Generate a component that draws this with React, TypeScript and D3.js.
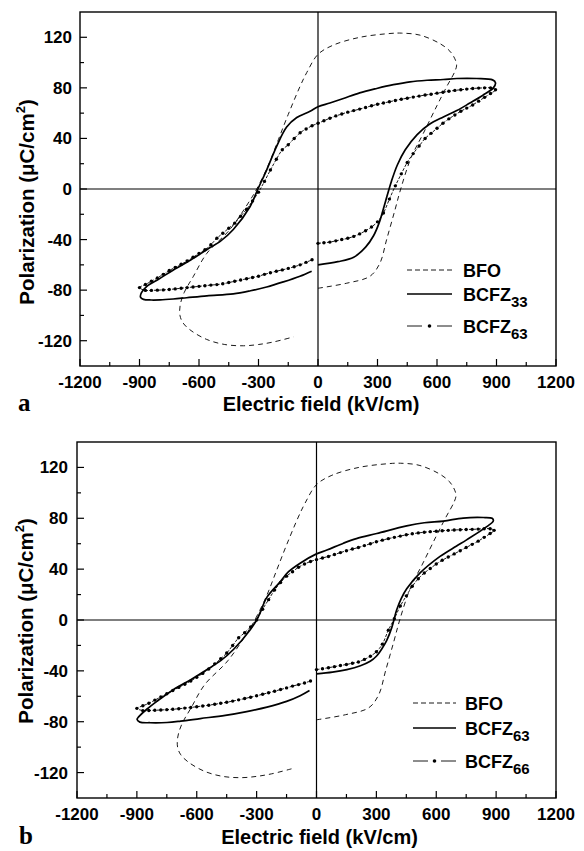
import React from 'react';
import * as d3 from 'd3';

type Pt = [number, number];

const X_TICKS = [-1200, -900, -600, -300, 0, 300, 600, 900, 1200];
const X_MINOR = [-1050, -750, -450, -150, 150, 450, 750, 1050];
const Y_TICKS = [-120, -80, -40, 0, 40, 80, 120];
const Y_MINOR = [-100, -60, -20, 20, 60, 100];

// BFO loop (same in both panels)
const BFO: Pt[] = [
  [0, -78.5], [145, -74.5], [262, -69], [312, -58.7], [346, -40], [388, -16.6], [417, 0],
  [470, 25], [531, 44], [600, 66], [649, 81], [690, 93], [699, 98], [690, 103], [665, 109],
  [615, 115], [514, 121.7], [420, 123.3], [363, 123], [212, 120], [77, 113.8], [0, 106.5],
  [-57, 92], [-91, 81], [-150, 59], [-200, 39], [-250, 19], [-309, 0], [-343, -9],
  [-444, -32], [-561, -51], [-628, -69], [-675, -82], [-695, -92], [-696, -100], [-680, -106],
  [-640, -112], [-561, -119], [-470, -123], [-376, -124], [-300, -123], [-225, -121], [-124, -117],
];

// Panel a: BCFZ33 (solid)
const A_BCFZ33: Pt[] = [
  [0, -60], [100, -57.5], [180, -54], [240, -46], [280, -37], [310, -26], [340, -10], [370, 6],
  [400, 19], [440, 31], [500, 43], [560, 51], [632, 57], [700, 62], [766, 68], [830, 74],
  [884, 80], [895, 84], [880, 86.3], [800, 87.4], [700, 87.4], [632, 86.6], [550, 86], [464, 84.8],
  [380, 82.5], [296, 79.5], [210, 76], [128, 71.6], [60, 68], [0, 65], [-40, 61.5], [-107, 56.5],
  [-158, 49], [-208, 34], [-259, 15], [-303, 0], [-343, -14], [-427, -32], [-490, -41],
  [-561, -48], [-640, -56], [-729, -64], [-800, -71], [-863, -77], [-890, -82], [-895, -85.5],
  [-880, -87.3], [-840, -87.8], [-796, -87.7], [-730, -87], [-662, -86], [-560, -84.5],
  [-427, -83], [-340, -80.5], [-259, -77.5], [-175, -73.5], [-91, -69], [-32, -65],
];

// Panel a: BCFZ63 (dash-dot with markers)
const A_BCFZ63: Pt[] = [
  [0, -43], [30, -42.5], [60, -42], [90, -41], [120, -40], [150, -39], [180, -37.5], [210, -35.5],
  [240, -33], [270, -30], [300, -26], [330, -19], [360, -8], [390, 2.5], [420, 12], [450, 21],
  [480, 28], [510, 34], [540, 40], [570, 44], [600, 48], [630, 52], [660, 55.5], [690, 58.5],
  [720, 61.5], [750, 64], [780, 66.5], [810, 69.5], [840, 72.5], [870, 75.5], [895, 78.5],
  [870, 80], [840, 80], [810, 79.8], [780, 79.5], [750, 79], [720, 78.5], [690, 78], [660, 77.3],
  [630, 76.5], [600, 75.8], [570, 75], [540, 74.3], [510, 73.5], [480, 72.7], [450, 71.8],
  [420, 71], [390, 70], [360, 69], [330, 68], [300, 67], [270, 65.8], [240, 64.5], [210, 63.2],
  [180, 62], [150, 60.8], [120, 59.3], [90, 57.8], [60, 56], [30, 54], [0, 52], [-30, 50],
  [-60, 47.5], [-90, 44.5], [-120, 40], [-150, 35], [-180, 31], [-210, 23.5], [-240, 15],
  [-270, 6], [-300, -2.5], [-330, -9.5], [-360, -16], [-390, -21.5], [-420, -27], [-450, -31],
  [-480, -35], [-510, -39], [-540, -44], [-570, -48], [-600, -51], [-630, -54], [-660, -57],
  [-690, -59.5], [-720, -62], [-750, -64.5], [-780, -67.5], [-810, -70.3], [-840, -73],
  [-870, -75.5], [-900, -78], [-870, -80.2], [-840, -80.2], [-810, -80], [-780, -79.8],
  [-750, -79.5], [-720, -79], [-690, -78.5], [-660, -78], [-630, -77.5], [-600, -77],
  [-570, -76.5], [-540, -76], [-510, -75.6], [-480, -75], [-450, -74], [-420, -73], [-390, -72],
  [-360, -71], [-330, -70], [-300, -69], [-270, -67.5], [-240, -66.3], [-210, -65], [-180, -64],
  [-150, -62.8], [-120, -61.5], [-90, -60], [-60, -58], [-30, -56],
];

// Panel b: BCFZ63 (solid)
const B_BCFZ63: Pt[] = [
  [0, -42.3], [80, -41], [152, -39], [220, -36], [269, -32.5], [300, -28.5], [330, -22],
  [352, -16], [377, -6], [402, 8], [425, 17], [452, 24.5], [519, 37], [619, 50], [700, 58],
  [752, 63], [853, 73.4], [886, 78], [880, 80], [836, 80.6], [735, 80.2], [636, 77.8],
  [540, 76.5], [452, 74], [302, 68], [200, 64], [135, 60.4], [52, 55], [0, 52], [-82, 44.7],
  [-140, 38], [-182, 30], [-248, 18], [-282, 6], [-300, 0], [-332, -7.6], [-415, -23],
  [-480, -32], [-548, -39], [-630, -47], [-716, -54.6], [-800, -64], [-849, -70], [-890, -76],
  [-899, -78.2], [-885, -80.3], [-832, -80.8], [-749, -80.6], [-680, -79.5], [-582, -77.5],
  [-457, -75], [-350, -72], [-248, -68.5], [-150, -64], [-82, -59.5], [-35, -55.4],
];

// Panel b: BCFZ66 (dash-dot with markers)
const B_BCFZ66: Pt[] = [
  [0, -39], [30, -38.3], [60, -37.5], [90, -36.7], [120, -35.8], [150, -35], [180, -34],
  [210, -33], [240, -31], [270, -28.5], [300, -25], [330, -19], [360, -8], [390, 1], [420, 11],
  [450, 19], [480, 26.5], [510, 32.5], [540, 37], [570, 40.5], [600, 44], [630, 47], [660, 49.5],
  [690, 52], [720, 54.5], [750, 57], [780, 59.5], [810, 62], [840, 65], [870, 68], [890, 70.5],
  [870, 71.8], [840, 71.8], [810, 71.5], [780, 71.3], [750, 71.2], [720, 71], [690, 70.8],
  [660, 70.5], [630, 70.2], [600, 69.8], [570, 69.5], [540, 69], [510, 68.5], [480, 67.8],
  [450, 67], [420, 66], [390, 65], [360, 64], [330, 62.8], [300, 61.5], [270, 60], [240, 58.5],
  [210, 57], [180, 55.8], [150, 54.5], [120, 53], [90, 51.5], [60, 50], [30, 48.8], [0, 47.5],
  [-30, 46], [-60, 44], [-90, 41.5], [-120, 38], [-150, 34.5], [-180, 29.5], [-210, 23.5],
  [-240, 16], [-270, 8.5], [-300, 0], [-330, -5.5], [-360, -10], [-390, -14], [-420, -20],
  [-450, -26], [-480, -30.5], [-510, -34.5], [-540, -38.5], [-570, -42], [-600, -45],
  [-630, -48], [-660, -50.5], [-690, -53], [-720, -55.5], [-750, -58], [-780, -60.5],
  [-810, -63], [-840, -65.5], [-870, -67.5], [-900, -69.5], [-870, -71.3], [-840, -71.2],
  [-810, -71], [-780, -70.8], [-750, -70.5], [-720, -70.2], [-690, -69.8], [-660, -69.3],
  [-630, -68.8], [-600, -68.2], [-570, -67.6], [-540, -67], [-510, -66.3], [-480, -65.5],
  [-450, -64.7], [-420, -63.8], [-390, -62.8], [-360, -61.8], [-330, -60.7], [-300, -59.6],
  [-270, -58.4], [-240, -57.2], [-210, -56], [-180, -54.7], [-150, -53.4], [-120, -52],
  [-90, -50.8], [-60, -49.5], [-30, -48],
];

const LEGEND_A: [string, string][] = [['BFO', ''], ['BCFZ', '33'], ['BCFZ', '63']];
const LEGEND_B: [string, string][] = [['BFO', ''], ['BCFZ', '63'], ['BCFZ', '66']];

const SANS = "'Liberation Sans', Arial, sans-serif";
const SERIF = "'Liberation Serif', 'Times New Roman', serif";

interface PanelProps {
  left: number; right: number; top: number; bottom: number;
  solid: Pt[]; dotted: Pt[]; legend: [string, string][];
  letter: string; letterX: number; titleY: number; yTitleX: number; yTitleY: number;
  yLabelX: number; legX0: number; legX1: number; legTextX: number; legY: number[];
}

function Panel(p: PanelProps) {
  const x = d3.scaleLinear().domain([-1200, 1200]).range([p.left, p.right]);
  const y = d3.scaleLinear().domain([-140, 140]).range([p.bottom, p.top]);
  const line = d3.line<Pt>().x(d => x(d[0])).y(d => y(d[1])).curve(d3.curveCatmullRom.alpha(0.5));
  const xlabelY = p.bottom + 22;
  const [l0, l1, l2] = p.legY;
  return (
    <g>
      <line x1={p.left} x2={p.right} y1={y(0)} y2={y(0)} stroke="#000" strokeWidth={1.2} />
      <line x1={x(0)} x2={x(0)} y1={p.top} y2={p.bottom} stroke="#000" strokeWidth={1.2} />
      <path d={line(BFO) || ''} fill="none" stroke="#000" strokeWidth={0.9} strokeDasharray="5,4" />
      <path d={line(p.solid) || ''} fill="none" stroke="#000" strokeWidth={1.7} />
      <path d={line(p.dotted) || ''} fill="none" stroke="#000" strokeWidth={0.9} strokeDasharray="3,1.5" />
      {p.dotted.map((d, i) => (
        <circle key={i} cx={x(d[0])} cy={y(d[1])} r={1.7} fill="#000" />
      ))}
      <rect x={p.left} y={p.top} width={p.right - p.left} height={p.bottom - p.top} fill="none" stroke="#000" strokeWidth={1.4} />
      {X_TICKS.map(t => (
        <g key={'xt' + t}>
          <line x1={x(t)} x2={x(t)} y1={p.bottom} y2={p.bottom - 7} stroke="#000" strokeWidth={1.2} />
          <text x={x(t)} y={xlabelY} textAnchor="middle" fontFamily={SANS} fontWeight="bold" fontSize={17}>{t}</text>
        </g>
      ))}
      {X_MINOR.map(t => (
        <line key={'xm' + t} x1={x(t)} x2={x(t)} y1={p.bottom} y2={p.bottom - 4} stroke="#000" strokeWidth={1.2} />
      ))}
      {Y_TICKS.map(t => (
        <g key={'yt' + t}>
          <line x1={p.left} x2={p.left + 7} y1={y(t)} y2={y(t)} stroke="#000" strokeWidth={1.2} />
          <text x={p.yLabelX} y={y(t) + 6} textAnchor="end" fontFamily={SANS} fontWeight="bold" fontSize={17}>{t}</text>
        </g>
      ))}
      {Y_MINOR.map(t => (
        <line key={'ym' + t} x1={p.left} x2={p.left + 4} y1={y(t)} y2={y(t)} stroke="#000" strokeWidth={1.2} />
      ))}
      <text x={x(0) + 3} y={p.titleY} textAnchor="middle" fontFamily={SANS} fontWeight="bold" fontSize={20}>Electric field (kV/cm)</text>
      <text transform={`translate(${p.yTitleX},${p.yTitleY}) rotate(-90)`} textAnchor="middle" fontFamily={SANS} fontWeight="bold" fontSize={20.5}>
        Polarization (μC/cm<tspan dy={-9} fontSize={13}>2</tspan><tspan dy={9}>)</tspan>
      </text>
      <text x={p.letterX} y={p.titleY} fontFamily={SERIF} fontWeight="bold" fontSize={25}>{p.letter}</text>
      <line x1={p.legX0} x2={p.legX1} y1={l0} y2={l0} stroke="#000" strokeWidth={0.9} strokeDasharray="5,3" />
      <line x1={p.legX0} x2={p.legX1} y1={l1} y2={l1} stroke="#000" strokeWidth={1.7} />
      <line x1={p.legX0} x2={p.legX0 + 15} y1={l2} y2={l2} stroke="#000" strokeWidth={0.9} />
      <circle cx={(p.legX0 + p.legX1) / 2} cy={l2} r={1.8} fill="#000" />
      <line x1={p.legX1 - 15} x2={p.legX1} y1={l2} y2={l2} stroke="#000" strokeWidth={0.9} />
      {p.legend.map((item, i) => (
        <text key={'lg' + i} x={p.legTextX} y={p.legY[i] + 6.5} fontFamily={SANS} fontWeight="bold" fontSize={18}>
          {item[0]}
          {item[1] ? <tspan dy={6} fontSize={15}>{item[1]}</tspan> : null}
        </text>
      ))}
    </g>
  );
}

export default function App() {
  return (
    <svg width={584} height={851} style={{ position: 'absolute', left: 0, top: 0, background: '#fff' }}>
      <rect x={0} y={0} width={584} height={851} fill="#fff" />
      <Panel left={80} right={556} top={12} bottom={366} solid={A_BCFZ33} dotted={A_BCFZ63} legend={LEGEND_A}
        letter="a" letterX={18} titleY={411} yTitleX={34} yTitleY={202} yLabelX={72}
        legX0={407} legX1={452} legTextX={463} legY={[270, 294, 326]} />
      <Panel left={77} right={556} top={442} bottom={798} solid={B_BCFZ63} dotted={B_BCFZ66} legend={LEGEND_B}
        letter="b" letterX={19} titleY={844} yTitleX={33} yTitleY={621} yLabelX={68}
        legX0={413} legX1={456} legTextX={465} legY={[703, 728, 761]} />
    </svg>
  );
}
